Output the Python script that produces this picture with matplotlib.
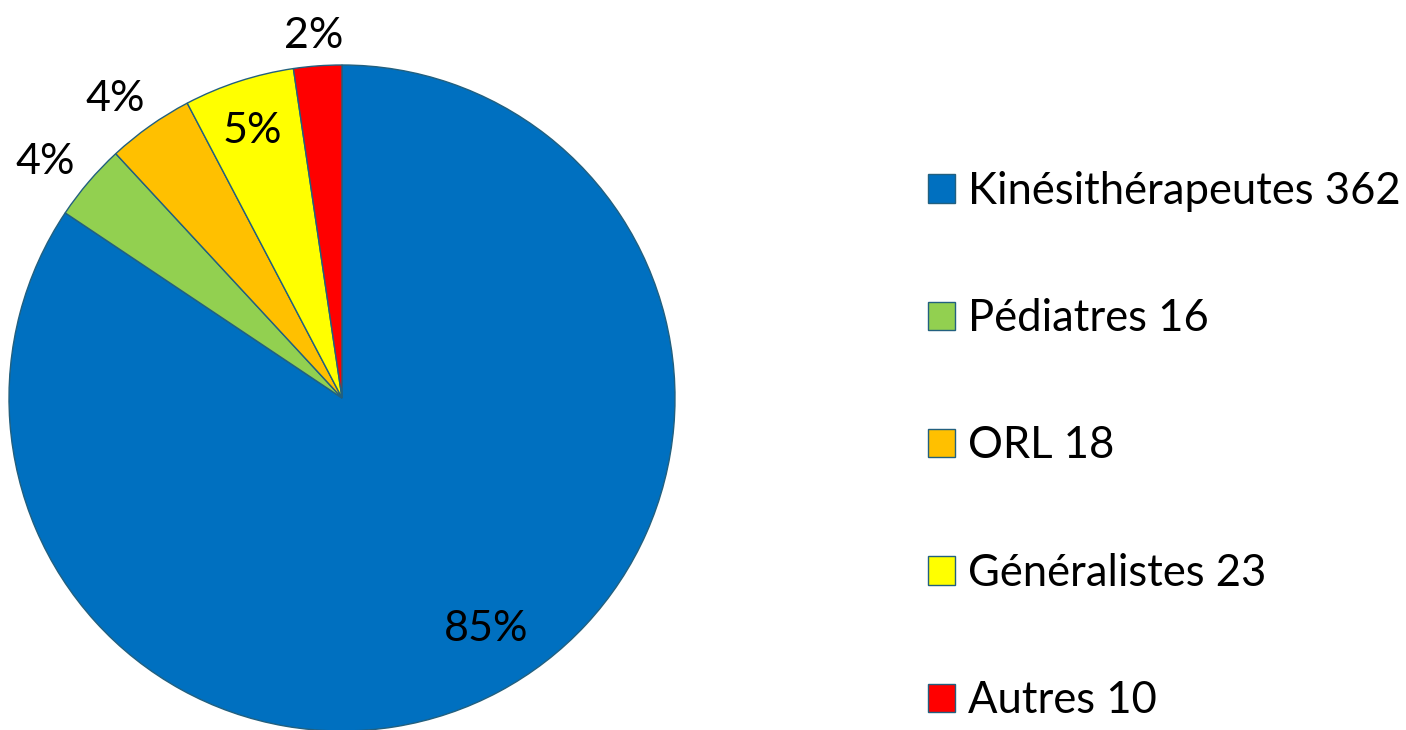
import matplotlib
matplotlib.use('Agg')
import matplotlib.pyplot as plt
import numpy as np

# data
categories = ['Kinésithérapeutes', 'Pédiatres', 'ORL', 'Généralistes', 'Autres']
counts = [362, 16, 18, 23, 10]
pct_labels = ['85%', '4%', '4%', '5%', '2%']
colors = ['#0070C0', '#92D050', '#FFC000', '#FFFF00', '#FF0000']

# label placement: distance from centre (in radii) and angle nudge (deg)
label_dist = [0.81, 1.147, 1.137, 0.856, 1.10]
label_nudge = [4.3, 1.6, 1.6, 0.2, 0.3]

plt.rcParams['font.family'] = ['Lato', 'DejaVu Sans']

W, H = 1406, 730
fig = plt.figure(figsize=(W / 100, H / 100), dpi=100)

cx, cy, r = 342, 332, 333  # pixels, y from bottom
ax = fig.add_axes([(cx - r) / W, (cy - r) / H, 2 * r / W, 2 * r / H])

wedges, _ = ax.pie(counts, colors=colors, startangle=90, counterclock=False,
                   wedgeprops={'edgecolor': '#22607F', 'linewidth': 1.0})
ax.set_xlim(-1, 1)
ax.set_ylim(-1, 1)
ax.set_aspect('equal')
ax.axis('off')

for w, lab, d, nudge in zip(wedges, pct_labels, label_dist, label_nudge):
    mid = np.deg2rad((w.theta1 + w.theta2) / 2 + nudge)
    ax.text(d * np.cos(mid), d * np.sin(mid), lab, ha='center',
            va='center_baseline', fontsize=31, color='black', clip_on=False)

legend_labels = [f'{c} {n}' for c, n in zip(categories, counts)]
fig.legend(wedges, legend_labels, loc='center left',
           bbox_to_anchor=(928 / W, (H - 446) / H), frameon=False,
           fontsize=31.4, labelspacing=1.98, handlelength=0.62, handleheight=0.62,
           handletextpad=0.3, borderpad=0, borderaxespad=0)

fig.savefig('out.png', dpi=100)
